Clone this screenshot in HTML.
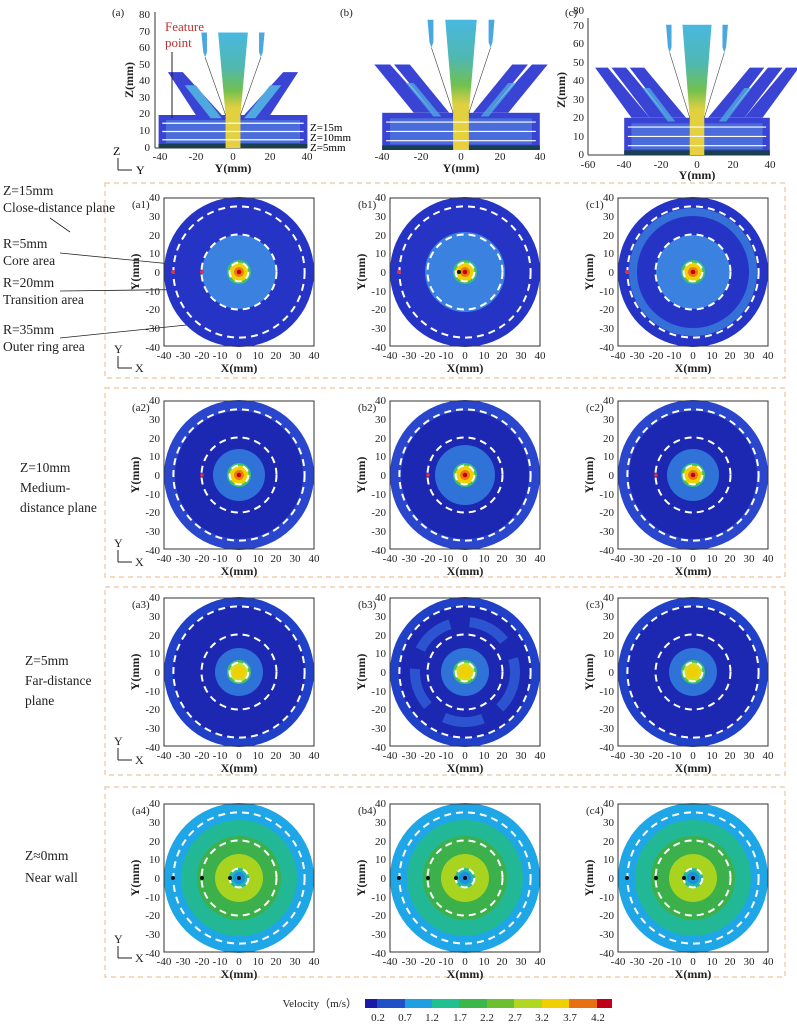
<!DOCTYPE html>
<html><head><meta charset="utf-8"><style>
html,body{margin:0;padding:0;background:#fff}
svg{display:block;font-family:"Liberation Serif",serif}
.t{font-size:11px;fill:#222}
.b{font-size:12px;font-weight:bold;fill:#222}
.l{font-size:13.5px;fill:#222}
.d{fill:none;stroke:#fff;stroke-width:2;stroke-dasharray:7 5}
.f{fill:none;stroke:#333;stroke-width:1}
.box{fill:none;stroke:#ecc39a;stroke-width:1.2;stroke-dasharray:5 4}
</style></head><body>
<svg width="797" height="1024" viewBox="0 0 797 1024">
<defs>
<linearGradient id="jet" x1="0" y1="0" x2="0" y2="1">
<stop offset="0" stop-color="#e8d040"/><stop offset="0.35" stop-color="#e0d040"/><stop offset="0.5" stop-color="#70c050"/><stop offset="0.7" stop-color="#50b8b0"/><stop offset="1" stop-color="#48b8e0"/></linearGradient>
<g id="dash"><circle class="d" r="65.6"/><circle class="d" r="37.5"/><circle class="d" r="9.4"/></g>
<g id="core"><circle r="12" fill="#3cc070"/><circle r="9.5" fill="#f0d000"/><circle r="5" fill="#ec7a10"/><circle r="2.3" fill="#c00010"/></g>
<g id="core3"><circle r="12" fill="#3cc070"/><circle r="9.5" fill="#d8dc20"/><circle r="5.5" fill="#f0d000"/></g>
<g id="core4"><circle r="10" fill="#22b8a8"/><circle r="6" fill="#1e8ee0"/><circle r="2" fill="#111"/></g>
<g id="boxfill">
<rect x="-40" y="0" width="80" height="20" fill="#3a44d4"/>
<rect x="-36" y="3" width="72" height="14" fill="#5a90e0" opacity="0.55"/>
<rect x="-40" y="0" width="80" height="2.5" fill="#184050"/>
</g>
</defs>

<rect class="box" x="105" y="183" width="680" height="195"/>
<rect class="box" x="105" y="388" width="680" height="189"/>
<rect class="box" x="105" y="587" width="680" height="188"/>
<rect class="box" x="105" y="787" width="680" height="190"/>

<!-- (a) -->
<g>
<text class="t" x="112" y="16">(a)</text>
<line x1="155" y1="12" x2="155" y2="148" stroke="#333"/>
<line x1="155" y1="148" x2="307" y2="148" stroke="#333"/>
<text class="t" text-anchor="end"><tspan x="150" y="18">80</tspan><tspan x="150" y="35">70</tspan><tspan x="150" y="51">60</tspan><tspan x="150" y="68">50</tspan><tspan x="150" y="84">40</tspan><tspan x="150" y="101">30</tspan><tspan x="150" y="117">20</tspan><tspan x="150" y="134">10</tspan><tspan x="150" y="151">0</tspan></text>
<text class="t" text-anchor="middle"><tspan x="160" y="160">-40</tspan><tspan x="196" y="160">-20</tspan><tspan x="233" y="160">0</tspan><tspan x="270" y="160">20</tspan><tspan x="307" y="160">40</tspan></text>
<text class="b" x="233" y="172" text-anchor="middle">Y(mm)</text>
<text class="b" transform="translate(133,80) rotate(-90)" text-anchor="middle">Z(mm)</text>
<g transform="translate(233,148) scale(1.86,-1.65)">
<use href="#boxfill"/>
<polygon points="-35,46 -27,46 -6,20 -20,20" fill="#3a44d4"/>
<polygon points="35,46 27,46 6,20 20,20" fill="#3a44d4"/>
<polygon points="-26,38 -20,38 -6,18 -12,18" fill="#50a8e0"/>
<polygon points="26,38 20,38 6,18 12,18" fill="#50a8e0"/>
<polygon points="-8,70 8,70 4,20 4,0 -4,0 -4,20" fill="url(#jet)"/>
<polygon points="-17,70 -14,70 -14,58 -15,55 -16,58" fill="#4aa8e0"/>
<polygon points="17,70 14,70 14,58 15,55 16,58" fill="#4aa8e0"/>
<polyline points="-15,55 -4,20" fill="none" stroke="#333" stroke-width="0.3"/>
<polyline points="15,55 4,20" fill="none" stroke="#333" stroke-width="0.3"/>
<g stroke="#fff" stroke-width="0.7"><line x1="-38" y1="5" x2="38" y2="5"/><line x1="-38" y1="10" x2="38" y2="10"/><line x1="-38" y1="15" x2="38" y2="15"/></g>
</g>
<text x="165" y="31" font-size="13" fill="#c03030">Feature</text>
<text x="165" y="47" font-size="13" fill="#c03030">point</text>
<line x1="172" y1="52" x2="172" y2="118" stroke="#222"/>
<text x="310" y="131" font-size="11">Z=15m</text>
<text x="310" y="141" font-size="11">Z=10mm</text>
<text x="310" y="151" font-size="11">Z=5mm</text>
<text x="113" y="155" font-size="12">Z</text>
<line x1="118" y1="158" x2="118" y2="170" stroke="#222"/><line x1="118" y1="170" x2="132" y2="170" stroke="#222"/>
<text x="136" y="174" font-size="12">Y</text>
</g>

<!-- (b) -->
<g>
<text class="t" x="340" y="16">(b)</text>
<line x1="382" y1="148" x2="540" y2="148" stroke="#333"/>
<text class="t" text-anchor="middle"><tspan x="382" y="160">-40</tspan><tspan x="421" y="160">-20</tspan><tspan x="461" y="160">0</tspan><tspan x="500" y="160">20</tspan><tspan x="540" y="160">40</tspan></text>
<text class="b" x="461" y="172" text-anchor="middle">Y(mm)</text>
<g transform="translate(461,150) scale(1.97,-1.86)">
<use href="#boxfill"/>
<polygon points="-44,46 -36,46 -14,20 -24,20" fill="#3a44d4"/>
<polygon points="-34,46 -26,46 -6,20 -14,20" fill="#3a44d4"/>
<polygon points="44,46 36,46 14,20 24,20" fill="#3a44d4"/>
<polygon points="34,46 26,46 6,20 14,20" fill="#3a44d4"/>
<polygon points="-28,36 -24,36 -10,18 -14,18" fill="#50a8e0" opacity="0.8"/>
<polygon points="28,36 24,36 10,18 14,18" fill="#50a8e0" opacity="0.8"/>
<polygon points="-8,70 8,70 4,20 4,0 -4,0 -4,20" fill="url(#jet)"/>
<polygon points="-17,70 -14,70 -14,58 -15,55 -16,58" fill="#4aa8e0"/>
<polygon points="17,70 14,70 14,58 15,55 16,58" fill="#4aa8e0"/>
<polyline points="-15,55 -4,20" fill="none" stroke="#333" stroke-width="0.3"/>
<polyline points="15,55 4,20" fill="none" stroke="#333" stroke-width="0.3"/>
<g stroke="#fff" stroke-width="0.6"><line x1="-38" y1="5" x2="38" y2="5"/><line x1="-38" y1="10" x2="38" y2="10"/><line x1="-38" y1="15" x2="38" y2="15"/></g>
</g>
</g>

<!-- (c) -->
<g>
<text class="t" x="565" y="16">(c)</text>
<line x1="588" y1="18" x2="588" y2="155" stroke="#333"/>
<line x1="588" y1="155" x2="770" y2="155" stroke="#333"/>
<text class="t" text-anchor="end"><tspan x="584" y="14">80</tspan><tspan x="584" y="29">70</tspan><tspan x="584" y="47">60</tspan><tspan x="584" y="66">50</tspan><tspan x="584" y="84">40</tspan><tspan x="584" y="103">30</tspan><tspan x="584" y="121">20</tspan><tspan x="584" y="140">10</tspan><tspan x="584" y="158">0</tspan></text>
<text class="t" text-anchor="middle"><tspan x="588" y="168">-60</tspan><tspan x="624" y="168">-40</tspan><tspan x="661" y="168">-20</tspan><tspan x="697" y="168">0</tspan><tspan x="733" y="168">20</tspan><tspan x="770" y="168">40</tspan></text>
<text class="b" x="697" y="179" text-anchor="middle">Y(mm)</text>
<text class="b" transform="translate(565,90) rotate(-90)" text-anchor="middle">Z(mm)</text>
<g transform="translate(697,155) scale(1.82,-1.86)">
<use href="#boxfill"/>
<polygon points="-56,47 -49,47 -26,20 -36,20" fill="#3a44d4"/>
<polygon points="-47,47 -39,47 -16,20 -26,20" fill="#3a44d4"/>
<polygon points="-37,47 -29,47 -6,20 -16,20" fill="#3a44d4"/>
<polygon points="56,47 49,47 26,20 36,20" fill="#3a44d4"/>
<polygon points="47,47 39,47 16,20 26,20" fill="#3a44d4"/>
<polygon points="37,47 29,47 6,20 16,20" fill="#3a44d4"/>
<polygon points="-30,36 -26,36 -12,18 -16,18" fill="#50a8e0" opacity="0.8"/>
<polygon points="30,36 26,36 12,18 16,18" fill="#50a8e0" opacity="0.8"/>
<polygon points="-8,70 8,70 4,20 4,0 -4,0 -4,20" fill="url(#jet)"/>
<polygon points="-17,70 -14,70 -14,58 -15,55 -16,58" fill="#4aa8e0"/>
<polygon points="17,70 14,70 14,58 15,55 16,58" fill="#4aa8e0"/>
<polyline points="-15,55 -4,20" fill="none" stroke="#333" stroke-width="0.3"/>
<polyline points="15,55 4,20" fill="none" stroke="#333" stroke-width="0.3"/>
<g stroke="#fff" stroke-width="0.6"><line x1="-38" y1="5" x2="38" y2="5"/><line x1="-38" y1="10" x2="38" y2="10"/><line x1="-38" y1="15" x2="38" y2="15"/></g>
</g>
</g>

<!-- LEFT ANNOTATIONS -->
<text class="l" x="3" y="195">Z=15mm</text>
<text class="l" x="3" y="212">Close-distance plane</text>
<text class="l" x="3" y="248">R=5mm</text>
<text class="l" x="3" y="265">Core area</text>
<text class="l" x="3" y="287">R=20mm</text>
<text class="l" x="3" y="304">Transition area</text>
<text class="l" x="3" y="334">R=35mm</text>
<text class="l" x="3" y="351">Outer ring area</text>
<g stroke="#222" stroke-width="0.8"><line x1="60" y1="253" x2="232" y2="270"/><line x1="60" y1="291" x2="224" y2="289"/><line x1="60" y1="338" x2="206" y2="323"/><line x1="50" y1="218" x2="70" y2="232"/></g>
<g fill="#111"><polygon points="236,270 228,266 228,274"/><polygon points="228,289 220,285 220,293"/><polygon points="210,322 202,319 203,327"/></g>

<text class="l" x="20" y="472">Z=10mm</text>
<text class="l" x="20" y="492">Medium-</text>
<text class="l" x="20" y="512">distance plane</text>
<text class="l" x="25" y="665">Z=5mm</text>
<text class="l" x="25" y="685">Far-distance</text>
<text class="l" x="25" y="705">plane</text>
<text class="l" x="25" y="860">Z≈0mm</text>
<text class="l" x="25" y="882">Near wall</text>

<g font-size="12" fill="#222">
<text x="114" y="353">Y</text><line x1="118" y1="356" x2="118" y2="368" stroke="#222"/><line x1="118" y1="368" x2="132" y2="368" stroke="#222"/><text x="135" y="372">X</text>
<text x="114" y="547">Y</text><line x1="118" y1="550" x2="118" y2="562" stroke="#222"/><line x1="118" y1="562" x2="132" y2="562" stroke="#222"/><text x="135" y="566">X</text>
<text x="114" y="745">Y</text><line x1="118" y1="748" x2="118" y2="760" stroke="#222"/><line x1="118" y1="760" x2="132" y2="760" stroke="#222"/><text x="135" y="764">X</text>
<text x="114" y="943">Y</text><line x1="118" y1="946" x2="118" y2="958" stroke="#222"/><line x1="118" y1="958" x2="132" y2="958" stroke="#222"/><text x="135" y="962">X</text>
</g>

<!-- Row 1 -->
<g transform="translate(239,272)">
<circle r="75" fill="#2634c6"/><circle r="37" fill="#3b82e0"/><use href="#core"/><use href="#dash"/>
<circle cx="-66" r="2" fill="#e03040"/><circle cx="-37" r="2" fill="#e03040"/>
<rect class="f" x="-75" y="-74" width="150" height="148"/>
<text class="t" x="-107" y="-64">(a1)</text>
<text class="t" text-anchor="end"><tspan x="-79" y="-71">40</tspan><tspan x="-79" y="-52">30</tspan><tspan x="-79" y="-33">20</tspan><tspan x="-79" y="-15">10</tspan><tspan x="-79" y="4">0</tspan><tspan x="-79" y="23">-10</tspan><tspan x="-79" y="41">-20</tspan><tspan x="-79" y="60">-30</tspan><tspan x="-79" y="79">-40</tspan></text>
<text class="t" text-anchor="middle"><tspan x="-75" y="87">-40</tspan><tspan x="-56" y="87">-30</tspan><tspan x="-37" y="87">-20</tspan><tspan x="-19" y="87">-10</tspan><tspan x="0" y="87">0</tspan><tspan x="19" y="87">10</tspan><tspan x="37" y="87">20</tspan><tspan x="56" y="87">30</tspan><tspan x="75" y="87">40</tspan></text>
<text class="b" x="0" y="100" text-anchor="middle">X(mm)</text>
<text class="b" transform="translate(-100,0) rotate(-90)" text-anchor="middle">Y(mm)</text>
</g>
<g transform="translate(465,272)">
<circle r="75" fill="#2634c6"/><circle r="40" fill="#3b82e0"/><use href="#core"/><use href="#dash"/>
<circle cx="-66" r="2" fill="#e03040"/><circle cx="-6" r="2" fill="#111"/>
<rect class="f" x="-75" y="-74" width="150" height="148"/>
<text class="t" x="-107" y="-64">(b1)</text>
<text class="t" text-anchor="end"><tspan x="-79" y="-71">40</tspan><tspan x="-79" y="-52">30</tspan><tspan x="-79" y="-33">20</tspan><tspan x="-79" y="-15">10</tspan><tspan x="-79" y="4">0</tspan><tspan x="-79" y="23">-10</tspan><tspan x="-79" y="41">-20</tspan><tspan x="-79" y="60">-30</tspan><tspan x="-79" y="79">-40</tspan></text>
<text class="t" text-anchor="middle"><tspan x="-75" y="87">-40</tspan><tspan x="-56" y="87">-30</tspan><tspan x="-37" y="87">-20</tspan><tspan x="-19" y="87">-10</tspan><tspan x="0" y="87">0</tspan><tspan x="19" y="87">10</tspan><tspan x="37" y="87">20</tspan><tspan x="56" y="87">30</tspan><tspan x="75" y="87">40</tspan></text>
<text class="b" x="0" y="100" text-anchor="middle">X(mm)</text>
<text class="b" transform="translate(-100,0) rotate(-90)" text-anchor="middle">Y(mm)</text>
</g>
<g transform="translate(693,272)">
<circle r="75" fill="#2634c6"/><circle r="60" fill="none" stroke="#3470d8" stroke-width="8"/><circle r="37" fill="#3b82e0"/><use href="#core"/><use href="#dash"/>
<circle cx="-66" r="2" fill="#e03040"/>
<rect class="f" x="-75" y="-74" width="150" height="148"/>
<text class="t" x="-107" y="-64">(c1)</text>
<text class="t" text-anchor="end"><tspan x="-79" y="-71">40</tspan><tspan x="-79" y="-52">30</tspan><tspan x="-79" y="-33">20</tspan><tspan x="-79" y="-15">10</tspan><tspan x="-79" y="4">0</tspan><tspan x="-79" y="23">-10</tspan><tspan x="-79" y="41">-20</tspan><tspan x="-79" y="60">-30</tspan><tspan x="-79" y="79">-40</tspan></text>
<text class="t" text-anchor="middle"><tspan x="-75" y="87">-40</tspan><tspan x="-56" y="87">-30</tspan><tspan x="-37" y="87">-20</tspan><tspan x="-19" y="87">-10</tspan><tspan x="0" y="87">0</tspan><tspan x="19" y="87">10</tspan><tspan x="37" y="87">20</tspan><tspan x="56" y="87">30</tspan><tspan x="75" y="87">40</tspan></text>
<text class="b" x="0" y="100" text-anchor="middle">X(mm)</text>
<text class="b" transform="translate(-100,0) rotate(-90)" text-anchor="middle">Y(mm)</text>
</g>

<!-- Row 2 -->
<g transform="translate(239,475)">
<circle r="75" fill="#2a46cc"/><circle r="64" fill="#1c28b2"/><circle r="26" fill="#2f72d8"/><use href="#core"/><use href="#dash"/>
<circle cx="-37" r="1.8" fill="#e03040"/>
<rect class="f" x="-75" y="-74" width="150" height="148"/>
<text class="t" x="-107" y="-64">(a2)</text>
<text class="t" text-anchor="end"><tspan x="-79" y="-71">40</tspan><tspan x="-79" y="-52">30</tspan><tspan x="-79" y="-33">20</tspan><tspan x="-79" y="-15">10</tspan><tspan x="-79" y="4">0</tspan><tspan x="-79" y="23">-10</tspan><tspan x="-79" y="41">-20</tspan><tspan x="-79" y="60">-30</tspan><tspan x="-79" y="79">-40</tspan></text>
<text class="t" text-anchor="middle"><tspan x="-75" y="87">-40</tspan><tspan x="-56" y="87">-30</tspan><tspan x="-37" y="87">-20</tspan><tspan x="-19" y="87">-10</tspan><tspan x="0" y="87">0</tspan><tspan x="19" y="87">10</tspan><tspan x="37" y="87">20</tspan><tspan x="56" y="87">30</tspan><tspan x="75" y="87">40</tspan></text>
<text class="b" x="0" y="100" text-anchor="middle">X(mm)</text>
<text class="b" transform="translate(-100,0) rotate(-90)" text-anchor="middle">Y(mm)</text>
</g>
<g transform="translate(465,475)">
<circle r="75" fill="#2a46cc"/><circle r="64" fill="#1c28b2"/><circle r="30" fill="#2f72d8"/><use href="#core"/><use href="#dash"/>
<circle cx="-37" r="1.8" fill="#e03040"/>
<rect class="f" x="-75" y="-74" width="150" height="148"/>
<text class="t" x="-107" y="-64">(b2)</text>
<text class="t" text-anchor="end"><tspan x="-79" y="-71">40</tspan><tspan x="-79" y="-52">30</tspan><tspan x="-79" y="-33">20</tspan><tspan x="-79" y="-15">10</tspan><tspan x="-79" y="4">0</tspan><tspan x="-79" y="23">-10</tspan><tspan x="-79" y="41">-20</tspan><tspan x="-79" y="60">-30</tspan><tspan x="-79" y="79">-40</tspan></text>
<text class="t" text-anchor="middle"><tspan x="-75" y="87">-40</tspan><tspan x="-56" y="87">-30</tspan><tspan x="-37" y="87">-20</tspan><tspan x="-19" y="87">-10</tspan><tspan x="0" y="87">0</tspan><tspan x="19" y="87">10</tspan><tspan x="37" y="87">20</tspan><tspan x="56" y="87">30</tspan><tspan x="75" y="87">40</tspan></text>
<text class="b" x="0" y="100" text-anchor="middle">X(mm)</text>
<text class="b" transform="translate(-100,0) rotate(-90)" text-anchor="middle">Y(mm)</text>
</g>
<g transform="translate(693,475)">
<circle r="75" fill="#2a46cc"/><circle r="64" fill="#1c28b2"/><circle r="26" fill="#2f72d8"/><use href="#core"/><use href="#dash"/>
<circle cx="-37" r="1.8" fill="#e03040"/>
<rect class="f" x="-75" y="-74" width="150" height="148"/>
<text class="t" x="-107" y="-64">(c2)</text>
<text class="t" text-anchor="end"><tspan x="-79" y="-71">40</tspan><tspan x="-79" y="-52">30</tspan><tspan x="-79" y="-33">20</tspan><tspan x="-79" y="-15">10</tspan><tspan x="-79" y="4">0</tspan><tspan x="-79" y="23">-10</tspan><tspan x="-79" y="41">-20</tspan><tspan x="-79" y="60">-30</tspan><tspan x="-79" y="79">-40</tspan></text>
<text class="t" text-anchor="middle"><tspan x="-75" y="87">-40</tspan><tspan x="-56" y="87">-30</tspan><tspan x="-37" y="87">-20</tspan><tspan x="-19" y="87">-10</tspan><tspan x="0" y="87">0</tspan><tspan x="19" y="87">10</tspan><tspan x="37" y="87">20</tspan><tspan x="56" y="87">30</tspan><tspan x="75" y="87">40</tspan></text>
<text class="b" x="0" y="100" text-anchor="middle">X(mm)</text>
<text class="b" transform="translate(-100,0) rotate(-90)" text-anchor="middle">Y(mm)</text>
</g>

<!-- Row 3 -->
<g transform="translate(239,672)">
<circle r="75" fill="#2040c8"/><circle r="66" fill="#1c28b2"/><circle r="24" fill="#2f72d8"/><use href="#core3"/><use href="#dash"/>
<rect class="f" x="-75" y="-74" width="150" height="148"/>
<text class="t" x="-107" y="-64">(a3)</text>
<text class="t" text-anchor="end"><tspan x="-79" y="-71">40</tspan><tspan x="-79" y="-52">30</tspan><tspan x="-79" y="-33">20</tspan><tspan x="-79" y="-15">10</tspan><tspan x="-79" y="4">0</tspan><tspan x="-79" y="23">-10</tspan><tspan x="-79" y="41">-20</tspan><tspan x="-79" y="60">-30</tspan><tspan x="-79" y="79">-40</tspan></text>
<text class="t" text-anchor="middle"><tspan x="-75" y="87">-40</tspan><tspan x="-56" y="87">-30</tspan><tspan x="-37" y="87">-20</tspan><tspan x="-19" y="87">-10</tspan><tspan x="0" y="87">0</tspan><tspan x="19" y="87">10</tspan><tspan x="37" y="87">20</tspan><tspan x="56" y="87">30</tspan><tspan x="75" y="87">40</tspan></text>
<text class="b" x="0" y="100" text-anchor="middle">X(mm)</text>
<text class="b" transform="translate(-100,0) rotate(-90)" text-anchor="middle">Y(mm)</text>
</g>
<g transform="translate(465,672)">
<circle r="75" fill="#2040c8"/><circle r="66" fill="#1c28b2"/><circle r="50" fill="none" stroke="#2c54d0" stroke-width="10" stroke-dasharray="40 20"/><circle r="24" fill="#2f72d8"/><use href="#core3"/><use href="#dash"/>
<rect class="f" x="-75" y="-74" width="150" height="148"/>
<text class="t" x="-107" y="-64">(b3)</text>
<text class="t" text-anchor="end"><tspan x="-79" y="-71">40</tspan><tspan x="-79" y="-52">30</tspan><tspan x="-79" y="-33">20</tspan><tspan x="-79" y="-15">10</tspan><tspan x="-79" y="4">0</tspan><tspan x="-79" y="23">-10</tspan><tspan x="-79" y="41">-20</tspan><tspan x="-79" y="60">-30</tspan><tspan x="-79" y="79">-40</tspan></text>
<text class="t" text-anchor="middle"><tspan x="-75" y="87">-40</tspan><tspan x="-56" y="87">-30</tspan><tspan x="-37" y="87">-20</tspan><tspan x="-19" y="87">-10</tspan><tspan x="0" y="87">0</tspan><tspan x="19" y="87">10</tspan><tspan x="37" y="87">20</tspan><tspan x="56" y="87">30</tspan><tspan x="75" y="87">40</tspan></text>
<text class="b" x="0" y="100" text-anchor="middle">X(mm)</text>
<text class="b" transform="translate(-100,0) rotate(-90)" text-anchor="middle">Y(mm)</text>
</g>
<g transform="translate(693,672)">
<circle r="75" fill="#2040c8"/><circle r="66" fill="#1c28b2"/><circle r="24" fill="#2f72d8"/><use href="#core3"/><use href="#dash"/>
<rect class="f" x="-75" y="-74" width="150" height="148"/>
<text class="t" x="-107" y="-64">(c3)</text>
<text class="t" text-anchor="end"><tspan x="-79" y="-71">40</tspan><tspan x="-79" y="-52">30</tspan><tspan x="-79" y="-33">20</tspan><tspan x="-79" y="-15">10</tspan><tspan x="-79" y="4">0</tspan><tspan x="-79" y="23">-10</tspan><tspan x="-79" y="41">-20</tspan><tspan x="-79" y="60">-30</tspan><tspan x="-79" y="79">-40</tspan></text>
<text class="t" text-anchor="middle"><tspan x="-75" y="87">-40</tspan><tspan x="-56" y="87">-30</tspan><tspan x="-37" y="87">-20</tspan><tspan x="-19" y="87">-10</tspan><tspan x="0" y="87">0</tspan><tspan x="19" y="87">10</tspan><tspan x="37" y="87">20</tspan><tspan x="56" y="87">30</tspan><tspan x="75" y="87">40</tspan></text>
<text class="b" x="0" y="100" text-anchor="middle">X(mm)</text>
<text class="b" transform="translate(-100,0) rotate(-90)" text-anchor="middle">Y(mm)</text>
</g>

<!-- Row 4 -->
<g transform="translate(239,878)">
<circle r="75" fill="#1ea6e6"/><circle r="58" fill="#22b896"/><circle r="42" fill="#3cb04a"/><circle r="24" fill="#a8d420"/><use href="#core4"/><use href="#dash"/>
<circle cx="-66" r="2" fill="#111"/><circle cx="-37" r="2" fill="#111"/><circle cx="-9" r="2" fill="#111"/>
<rect class="f" x="-75" y="-74" width="150" height="148"/>
<text class="t" x="-107" y="-64">(a4)</text>
<text class="t" text-anchor="end"><tspan x="-79" y="-71">40</tspan><tspan x="-79" y="-52">30</tspan><tspan x="-79" y="-33">20</tspan><tspan x="-79" y="-15">10</tspan><tspan x="-79" y="4">0</tspan><tspan x="-79" y="23">-10</tspan><tspan x="-79" y="41">-20</tspan><tspan x="-79" y="60">-30</tspan><tspan x="-79" y="79">-40</tspan></text>
<text class="t" text-anchor="middle"><tspan x="-75" y="87">-40</tspan><tspan x="-56" y="87">-30</tspan><tspan x="-37" y="87">-20</tspan><tspan x="-19" y="87">-10</tspan><tspan x="0" y="87">0</tspan><tspan x="19" y="87">10</tspan><tspan x="37" y="87">20</tspan><tspan x="56" y="87">30</tspan><tspan x="75" y="87">40</tspan></text>
<text class="b" x="0" y="100" text-anchor="middle">X(mm)</text>
<text class="b" transform="translate(-100,0) rotate(-90)" text-anchor="middle">Y(mm)</text>
</g>
<g transform="translate(465,878)">
<circle r="75" fill="#1ea6e6"/><circle r="58" fill="#22b896"/><circle r="42" fill="#3cb04a"/><circle r="24" fill="#a8d420"/><use href="#core4"/><use href="#dash"/>
<circle cx="-66" r="2" fill="#111"/><circle cx="-37" r="2" fill="#111"/><circle cx="-9" r="2" fill="#111"/>
<rect class="f" x="-75" y="-74" width="150" height="148"/>
<text class="t" x="-107" y="-64">(b4)</text>
<text class="t" text-anchor="end"><tspan x="-79" y="-71">40</tspan><tspan x="-79" y="-52">30</tspan><tspan x="-79" y="-33">20</tspan><tspan x="-79" y="-15">10</tspan><tspan x="-79" y="4">0</tspan><tspan x="-79" y="23">-10</tspan><tspan x="-79" y="41">-20</tspan><tspan x="-79" y="60">-30</tspan><tspan x="-79" y="79">-40</tspan></text>
<text class="t" text-anchor="middle"><tspan x="-75" y="87">-40</tspan><tspan x="-56" y="87">-30</tspan><tspan x="-37" y="87">-20</tspan><tspan x="-19" y="87">-10</tspan><tspan x="0" y="87">0</tspan><tspan x="19" y="87">10</tspan><tspan x="37" y="87">20</tspan><tspan x="56" y="87">30</tspan><tspan x="75" y="87">40</tspan></text>
<text class="b" x="0" y="100" text-anchor="middle">X(mm)</text>
<text class="b" transform="translate(-100,0) rotate(-90)" text-anchor="middle">Y(mm)</text>
</g>
<g transform="translate(693,878)">
<circle r="75" fill="#1ea6e6"/><circle r="58" fill="#22b896"/><circle r="42" fill="#3cb04a"/><circle r="24" fill="#a8d420"/><use href="#core4"/><use href="#dash"/>
<circle cx="-66" r="2" fill="#111"/><circle cx="-37" r="2" fill="#111"/><circle cx="-9" r="2" fill="#111"/>
<rect class="f" x="-75" y="-74" width="150" height="148"/>
<text class="t" x="-107" y="-64">(c4)</text>
<text class="t" text-anchor="end"><tspan x="-79" y="-71">40</tspan><tspan x="-79" y="-52">30</tspan><tspan x="-79" y="-33">20</tspan><tspan x="-79" y="-15">10</tspan><tspan x="-79" y="4">0</tspan><tspan x="-79" y="23">-10</tspan><tspan x="-79" y="41">-20</tspan><tspan x="-79" y="60">-30</tspan><tspan x="-79" y="79">-40</tspan></text>
<text class="t" text-anchor="middle"><tspan x="-75" y="87">-40</tspan><tspan x="-56" y="87">-30</tspan><tspan x="-37" y="87">-20</tspan><tspan x="-19" y="87">-10</tspan><tspan x="0" y="87">0</tspan><tspan x="19" y="87">10</tspan><tspan x="37" y="87">20</tspan><tspan x="56" y="87">30</tspan><tspan x="75" y="87">40</tspan></text>
<text class="b" x="0" y="100" text-anchor="middle">X(mm)</text>
<text class="b" transform="translate(-100,0) rotate(-90)" text-anchor="middle">Y(mm)</text>
</g>

<!-- COLORBAR -->
<text x="357" y="1007" font-size="11" text-anchor="end" fill="#222">Velocity（m/s）</text>
<g>
<rect x="365" y="999" width="12" height="9" fill="#1a1aa8"/>
<rect x="377" y="999" width="28" height="9" fill="#1e50c8"/>
<rect x="405" y="999" width="27" height="9" fill="#1ea0e0"/>
<rect x="432" y="999" width="27" height="9" fill="#20c090"/>
<rect x="459" y="999" width="28" height="9" fill="#3cb84a"/>
<rect x="487" y="999" width="27" height="9" fill="#6cc030"/>
<rect x="514" y="999" width="28" height="9" fill="#b0d820"/>
<rect x="542" y="999" width="27" height="9" fill="#f0d000"/>
<rect x="569" y="999" width="28" height="9" fill="#e87010"/>
<rect x="597" y="999" width="15" height="9" fill="#c00018"/>
</g>
<text class="t" text-anchor="middle"><tspan x="378" y="1021">0.2</tspan><tspan x="405" y="1021">0.7</tspan><tspan x="432" y="1021">1.2</tspan><tspan x="460" y="1021">1.7</tspan><tspan x="487" y="1021">2.2</tspan><tspan x="515" y="1021">2.7</tspan><tspan x="542" y="1021">3.2</tspan><tspan x="570" y="1021">3.7</tspan><tspan x="598" y="1021">4.2</tspan></text>
</svg>
</body></html>
